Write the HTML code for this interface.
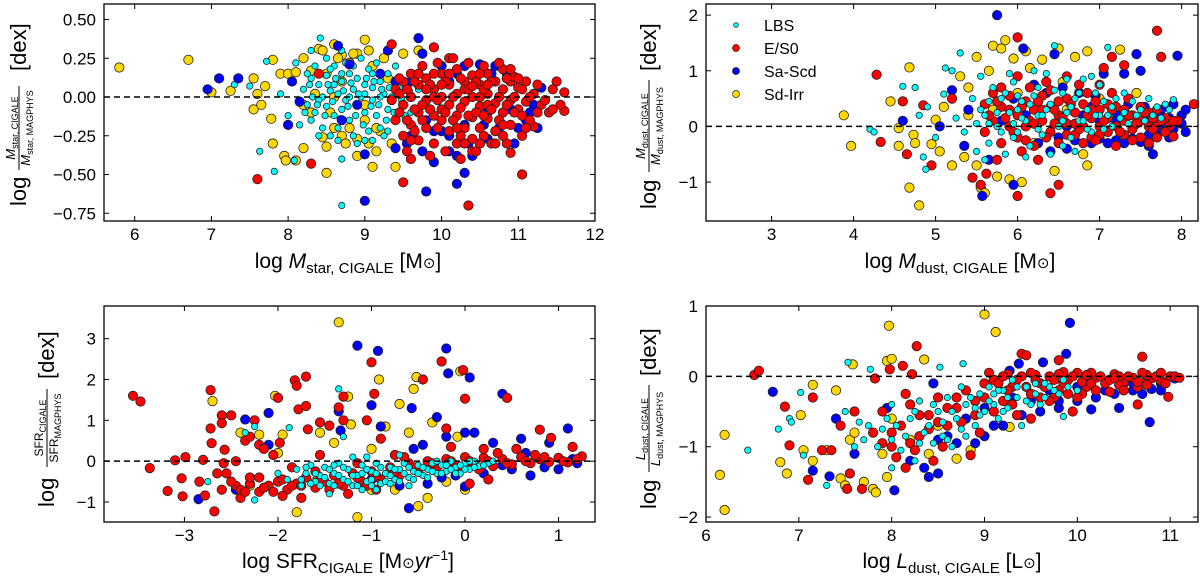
<!DOCTYPE html>
<html><head><meta charset="utf-8"><style>
html,body{margin:0;padding:0;background:#fff;}
svg{display:block;font-family:"Liberation Sans","DejaVu Sans",sans-serif;}
</style></head><body>
<svg id="fig" width="1200" height="578" viewBox="0 0 1200 578">
<g id="marks"></g>
<g transform="translate(10,0) rotate(-90)" fill="#000">
  <text x="-206" y="16" font-size="22">log</text>
  <text x="-128" y="5" font-size="13" text-anchor="middle"><tspan font-style="italic">M</tspan><tspan font-size="9" dy="3">star, CIGALE</tspan></text>
  <line x1="-170" x2="-86" y1="9" y2="9" stroke="#000" stroke-width="1"/>
  <text x="-128" y="20" font-size="13" text-anchor="middle"><tspan font-style="italic">M</tspan><tspan font-size="9" dy="3">star, MAGPHYS</tspan></text>
  <text x="-71" y="16" font-size="22">[dex]</text>
</g>
<g transform="translate(640,0) rotate(-90)" fill="#000">
  <text x="-209" y="16" font-size="22">log</text>
  <text x="-126" y="5" font-size="13" text-anchor="middle"><tspan font-style="italic">M</tspan><tspan font-size="9" dy="3">dust, CIGALE</tspan></text>
  <line x1="-172" x2="-80" y1="9" y2="9" stroke="#000" stroke-width="1"/>
  <text x="-126" y="20" font-size="13" text-anchor="middle"><tspan font-style="italic">M</tspan><tspan font-size="9" dy="3">dust, MAGPHYS</tspan></text>
  <text x="-71" y="16" font-size="22">[dex]</text>
</g>
<g transform="translate(38,0) rotate(-90)" fill="#000">
  <text x="-507" y="16" font-size="22">log</text>
  <text x="-428" y="5" font-size="12" text-anchor="middle">SFR<tspan font-size="9" dy="3">CIGALE</tspan></text>
  <line x1="-467" x2="-389" y1="9" y2="9" stroke="#000" stroke-width="1"/>
  <text x="-428" y="20" font-size="12" text-anchor="middle">SFR<tspan font-size="9" dy="3">MAGPHYS</tspan></text>
  <text x="-379" y="16" font-size="22">[dex]</text>
</g>
<g transform="translate(640,0) rotate(-90)" fill="#000">
  <text x="-509" y="16" font-size="22">log</text>
  <text x="-429" y="5" font-size="13" text-anchor="middle"><tspan font-style="italic">L</tspan><tspan font-size="9" dy="3">dust, CIGALE</tspan></text>
  <line x1="-472" x2="-385" y1="9" y2="9" stroke="#000" stroke-width="1"/>
  <text x="-429" y="20" font-size="13" text-anchor="middle"><tspan font-style="italic">L</tspan><tspan font-size="9" dy="3">dust, MAGPHYS</tspan></text>
  <text x="-376" y="16" font-size="22">[dex]</text>
</g>
<text x="348" y="268" font-size="21" text-anchor="middle">log <tspan font-style="italic">M</tspan><tspan font-size="15" dy="5">star, CIGALE</tspan><tspan dy="-5"> [M</tspan><tspan font-size="15">⊙</tspan>]</text>
<text x="960" y="268" font-size="21" text-anchor="middle">log <tspan font-style="italic">M</tspan><tspan font-size="15" dy="5">dust, CIGALE</tspan><tspan dy="-5"> [M</tspan><tspan font-size="15">⊙</tspan>]</text>
<text x="348" y="568" font-size="21" text-anchor="middle">log SFR<tspan font-size="15" dy="5">CIGALE</tspan><tspan dy="-5"> [M</tspan><tspan font-size="15">⊙</tspan><tspan font-style="italic">yr</tspan><tspan font-size="14" dy="-8">−1</tspan><tspan dy="8">]</tspan></text>
<text x="952" y="568" font-size="21" text-anchor="middle">log <tspan font-style="italic">L</tspan><tspan font-size="15" dy="5">dust, CIGALE</tspan><tspan dy="-5"> [L</tspan><tspan font-size="15">⊙</tspan>]</text>
<g font-size="16">
  <g><circle cx="736" cy="25" r="2.4" fill="#00ffff" stroke="#222" stroke-width="0.7"/><text x="764" y="31">LBS</text></g>
  <g><circle cx="736" cy="48" r="3.5" fill="#ff0000" stroke="#222" stroke-width="0.7"/><text x="764" y="54">E/S0</text></g>
  <g><circle cx="736" cy="71" r="3.5" fill="#0000ff" stroke="#222" stroke-width="0.7"/><text x="764" y="77">Sa-Scd</text></g>
  <g><circle cx="736" cy="94" r="3.5" fill="#ffd700" stroke="#222" stroke-width="0.7"/><text x="764" y="100">Sd-Irr</text></g>
</g>
</svg>
<script>
// ---------- data (x, y pairs) ----------
const p1Yellow=[5.8,0.19,6.7,0.24,7.0,0.03,7.25,0.04,7.55,0.12,7.55,-0.08,7.6,0.02,7.65,-0.05,7.7,0.07,7.78,-0.14,7.8,0.24,7.8,-0.3,7.9,0.15,7.95,-0.38,7.97,-0.41,8.0,0.15,8.1,0.16,8.1,-0.41,8.2,-0.33,8.2,0.25,8.3,0.17,8.4,0.31,8.45,0.3,8.5,-0.49,8.45,-0.26,8.5,-0.32,8.6,0.34,8.7,0.27,8.8,0.22,8.9,0.28,8.9,-0.38,9.0,0.37,9.05,-0.3,9.1,-0.45,9.4,-0.45,9.5,0.28,8.2,-0.05,8.3,-0.1,8.35,0.02,8.6,-0.2,8.7,-0.25,8.8,-0.2,9.0,-0.15,9.2,-0.22,8.5,0.15,8.7,0.1,9.1,0.2,9.3,0.12,9.6,0.0,9.7,0.3,8.9,-0.27,9.15,-0.35,8.55,-0.1,8.65,0.25,8.75,-0.3,8.85,0.28,9.05,0.3,9.15,-0.2,9.25,0.25,9.35,-0.3,8.6,0.0,9.0,-0.05];
const p1Blue=[6.95,0.05,7.1,0.12,7.35,0.12,8.05,0.1,8.0,-0.18,8.15,-0.03,8.65,0.33,8.7,-0.15,8.8,0.21,8.9,-0.05,9.0,-0.37,9.0,-0.67,9.3,0.3,9.4,-0.33,9.55,-0.3,9.7,0.38,9.75,0.28,9.8,-0.61,9.9,-0.42,10.0,0.2,10.1,-0.35,10.1,-0.25,10.2,-0.56,10.3,-0.49,10.3,0.2,10.4,-0.38,10.5,-0.3,10.5,0.21,10.6,-0.27,10.7,0.2,10.8,-0.25,11.0,-0.2,11.1,-0.15,11.2,-0.05,11.3,0.06,9.5,-0.05,9.8,-0.15,10.0,-0.22,10.3,-0.18,10.6,-0.1,10.9,-0.08,9.6,0.1,10.2,0.15,10.8,0.05,11.15,-0.1,9.2,0.15,9.9,0.05,9.6,-0.25,9.9,-0.22,10.1,0.1,10.35,-0.3,10.55,-0.18,10.75,-0.2,10.95,-0.3,11.25,-0.2,9.4,0.1,10.65,0.15,10.85,0.15,9.75,-0.35,10.2,-0.38];
const p1Red=[7.6,-0.53,8.3,-0.43,8.4,0.15,9.35,0.34,9.5,-0.55,9.6,-0.4,9.9,0.32,10.1,0.25,10.35,-0.7,10.4,-0.35,10.9,-0.36,11.05,-0.5,11.5,0.1,11.6,0.03,11.6,-0.09,11.55,-0.05,11.2,-0.19,11.4,-0.1,
9.4,0.05,9.4,-0.15,9.5,0.1,9.5,-0.05,9.5,-0.25,9.6,0.0,9.6,0.15,9.6,-0.18,9.7,0.08,9.7,-0.1,9.7,-0.28,9.8,0.12,9.8,-0.02,9.8,-0.2,9.9,0.05,9.9,-0.12,9.9,-0.3,10.0,0.15,10.0,0.0,10.0,-0.15,10.1,0.08,10.1,-0.05,10.1,-0.22,10.2,0.18,10.2,0.02,10.2,-0.12,10.2,-0.3,10.3,0.1,10.3,-0.03,10.3,-0.2,10.4,0.14,10.4,0.0,10.4,-0.13,10.4,-0.27,10.5,0.08,10.5,-0.06,10.5,-0.2,10.6,0.15,10.6,0.02,10.6,-0.14,10.7,0.1,10.7,-0.04,10.7,-0.22,10.8,0.18,10.8,0.05,10.8,-0.1,10.9,0.1,10.9,-0.02,10.9,-0.18,11.0,0.06,11.0,-0.08,11.1,0.1,11.1,-0.03,11.2,0.02,11.3,-0.05,9.45,0.12,9.55,-0.35,9.65,-0.08,9.75,0.2,9.85,-0.38,9.95,0.22,10.05,-0.35,10.15,0.25,10.25,-0.4,10.35,0.22,10.45,-0.35,10.55,0.2,10.65,-0.3,10.75,0.22,10.85,-0.3,10.95,0.13,11.05,-0.25,9.9,0.0,10.3,0.05,10.6,-0.05,10.0,-0.08,10.5,0.0,
9.35,-0.02,9.45,-0.1,9.45,0.02,9.55,0.05,9.55,-0.15,9.65,0.1,9.65,-0.22,9.75,-0.05,9.75,-0.15,9.85,0.08,9.85,-0.08,9.95,-0.02,9.95,-0.2,10.05,0.1,10.05,-0.1,10.15,0.0,10.15,-0.15,10.25,0.12,10.25,-0.07,10.25,-0.25,10.35,0.05,10.35,-0.12,10.45,0.1,10.45,-0.1,10.55,0.05,10.55,-0.12,10.55,-0.25,10.65,0.1,10.65,-0.08,10.75,0.0,10.75,-0.15,10.85,0.12,10.85,-0.05,10.95,0.0,10.95,-0.1,11.05,0.05,11.05,-0.12,11.15,0.0,11.15,-0.15,11.25,0.08,11.25,-0.1,11.35,-0.02,11.45,0.05,11.45,-0.08,9.6,-0.28,9.8,0.05,10.0,0.08,10.2,-0.2,10.4,0.07,10.6,0.08,10.8,-0.18,11.0,0.12,10.1,0.15,10.3,-0.3,10.7,-0.3,10.9,0.18,11.1,-0.2,9.9,0.15,10.5,0.15,10.5,-0.3,9.7,0.15,10.8,-0.25];
const p1Cyan=[7.3,0.08,7.5,0.07,7.63,-0.35,7.72,0.23,7.82,-0.48,8.08,-0.41,8.3,0.3,8.42,0.38,8.7,-0.7,8.7,-0.4,7.9,0.02,8.0,-0.12,8.1,0.22,8.15,-0.18,8.2,0.05,8.25,-0.05,8.3,0.12,8.35,-0.1,8.4,0.08,8.45,0.0,8.5,-0.06,8.5,0.14,8.55,0.04,8.6,-0.12,8.6,0.2,8.65,0.02,8.7,0.1,8.7,-0.08,8.75,-0.02,8.8,0.15,8.8,-0.15,8.85,0.05,8.9,-0.05,8.9,0.12,8.95,0.0,9.0,0.08,9.0,-0.1,9.05,0.18,9.1,-0.02,9.1,0.06,9.15,-0.12,9.2,0.1,9.2,-0.2,9.25,0.02,9.3,-0.08,9.3,0.15,9.35,0.0,9.4,-0.15,9.45,0.06,9.5,-0.05,9.55,0.1,9.6,-0.1,8.35,0.2,8.45,-0.2,8.55,-0.25,8.65,-0.2,8.75,0.22,8.85,-0.25,8.95,0.25,9.05,-0.22,9.15,0.22,9.25,-0.25,8.4,-0.02,8.6,0.08,8.8,0.0,9.0,0.02,9.2,0.0,8.3,-0.15,8.5,0.25,8.9,-0.3,9.1,-0.28,9.4,0.2,9.65,-0.2,9.7,0.05,8.25,0.15,8.7,0.3,
8.22,-0.1,8.28,0.08,8.32,0.0,8.38,-0.05,8.42,0.15,8.48,-0.12,8.52,0.08,8.58,-0.03,8.62,0.12,8.68,-0.14,8.72,0.04,8.78,-0.06,8.82,0.09,8.88,-0.12,8.92,0.02,8.98,-0.18,9.02,0.12,9.08,-0.06,9.12,0.1,9.18,-0.05,9.22,0.05,9.28,-0.15,9.32,0.06,9.38,-0.1,9.42,0.1,9.48,-0.02,9.52,-0.12,9.58,0.04,8.55,0.18,8.65,-0.28,8.85,0.2,9.0,-0.28,9.3,-0.22,8.4,-0.25,8.7,0.15,9.1,0.15];

const p2Yellow=[3.88,0.2,3.97,-0.35,4.45,0.45,4.55,-0.03,4.55,-0.35,4.68,1.06,4.68,-1.1,4.73,-0.15,4.75,-0.3,4.8,-1.42,4.95,-0.32,5.0,0.12,5.05,-0.45,5.1,0.35,5.2,-0.7,5.3,0.9,5.35,-0.55,5.4,0.7,5.5,1.25,5.5,-0.7,5.55,-1.1,5.6,-1.2,5.65,1.0,5.7,1.45,5.75,-0.9,5.8,1.4,5.85,1.55,5.9,-0.95,5.95,1.22,6.05,-1.0,6.1,1.35,6.15,1.05,6.3,1.2,6.45,-0.8,6.5,1.4,6.55,0.8,6.7,1.25,6.8,-0.5,6.85,1.35,6.85,-0.7,7.25,1.38,7.45,0.6,5.7,0.3,6.0,0.6,6.2,-0.3,5.4,0.2,7.0,0.5,6.6,0.3];
const p2Blue=[4.6,0.1,5.05,0.0,5.2,0.65,5.35,-0.35,5.4,0.3,5.57,-1.25,5.65,-0.6,5.75,2.0,5.95,-1.05,6.07,1.4,6.25,-0.3,6.45,1.3,6.6,-0.4,7.05,0.95,7.3,0.95,7.45,1.3,7.5,1.0,7.65,-0.5,7.95,1.27,6.5,-0.2,6.7,-0.25,6.9,-0.3,7.0,-0.22,7.1,-0.3,7.2,-0.25,7.3,-0.3,7.4,-0.22,7.5,-0.28,7.6,-0.15,7.7,-0.1,7.8,0.0,7.85,0.15,7.9,-0.05,8.0,0.2,8.05,0.3,8.0,0.05,7.75,0.3,7.55,0.35,7.35,0.4,6.95,0.55,6.75,0.6,6.55,0.7,6.35,0.6,6.2,0.75,5.95,0.5,5.8,0.1,7.2,0.1,7.6,0.1,6.8,0.2,6.6,0.0,7.0,0.1,7.4,0.0,7.7,0.2,7.9,0.4,7.85,-0.2,8.05,-0.1,7.6,-0.35,7.2,0.25,6.9,0.35,6.4,-0.45,6.1,0.2];
const p2Red=[4.28,0.93,4.33,-0.28,4.6,0.45,4.65,-0.5,4.85,0.38,4.95,-0.7,5.2,0.5,5.45,-0.92,5.55,-1.05,5.62,-0.85,6.0,1.6,6.0,-1.25,6.4,-1.2,6.5,-1.05,7.7,1.72,7.75,1.25,7.3,1.1,7.15,1.25,8.15,0.4,7.05,1.05,
5.6,0.4,5.6,-0.1,5.7,0.6,5.7,0.1,5.8,-0.3,5.8,0.35,5.9,0.0,5.9,0.55,6.0,0.2,6.0,-0.2,6.1,0.45,6.1,0.0,6.2,0.3,6.2,-0.35,6.3,0.1,6.3,0.55,6.4,-0.1,6.4,0.35,6.5,0.2,6.5,-0.3,6.6,0.5,6.6,0.05,6.7,0.25,6.7,-0.15,6.8,0.4,6.8,0.0,6.9,0.15,6.9,-0.2,7.0,0.3,7.0,0.0,7.1,0.15,7.1,-0.1,7.2,0.35,7.2,0.0,7.3,0.1,7.3,-0.15,7.4,0.2,7.4,-0.05,7.5,0.1,7.5,-0.2,7.6,0.25,7.6,0.0,7.7,0.05,7.7,-0.2,7.8,0.15,7.9,-0.18,6.15,0.7,6.35,0.8,6.75,0.75,7.15,0.6,5.75,-0.6,6.25,-0.6,6.85,0.6,7.35,0.5,6.05,-0.45,6.45,0.05,
5.65,0.2,5.75,0.45,5.85,0.15,5.95,-0.1,6.05,0.35,6.15,0.1,6.25,0.45,6.35,-0.2,6.45,0.3,6.55,0.15,6.65,0.4,6.75,-0.05,6.85,0.2,6.95,0.45,7.05,0.1,7.15,0.3,7.25,-0.1,7.35,0.2,7.45,0.05,7.55,0.25,7.65,-0.05,7.75,0.1,7.85,0.0,7.95,0.1,5.9,0.3,6.1,-0.25,6.3,0.3,6.5,0.45,6.7,0.05,6.9,0.3,7.1,0.4,7.3,0.3,7.5,0.35,7.7,0.3,7.9,0.1,6.2,0.05,6.6,-0.15,7.0,-0.15,7.4,-0.25,7.8,-0.1,6.4,0.65,6.8,-0.3,7.2,-0.35,7.6,-0.3,5.8,0.7,6.0,0.9,6.6,0.9,7.0,0.75,6.95,-0.25,7.65,0.15];
const p2Cyan=[4.2,-0.05,4.25,-0.1,4.6,0.72,4.75,0.7,4.85,-0.55,4.88,-0.77,4.8,0.2,4.9,0.35,5.1,0.58,5.12,1.05,5.2,1.0,5.3,1.32,5.0,-0.2,5.25,0.15,5.35,-0.1,5.45,0.5,5.5,0.05,5.5,-0.45,5.55,0.9,5.6,0.2,5.65,-0.3,5.7,0.7,5.75,0.0,5.8,0.5,5.85,-0.5,5.9,0.25,5.95,0.8,6.0,-0.1,6.05,0.45,6.1,0.1,6.15,-0.35,6.2,0.55,6.25,0.2,6.3,-0.15,6.35,0.95,6.4,0.4,6.45,1.45,6.5,0.0,6.55,0.6,6.6,0.25,6.65,-0.2,6.7,0.5,6.75,0.1,6.8,0.85,6.85,0.3,6.9,-0.1,6.95,0.6,7.0,0.2,7.05,0.45,7.1,1.42,7.15,0.0,7.2,0.5,7.3,0.25,7.4,0.45,7.5,0.3,7.6,0.5,7.7,0.35,7.8,0.4,7.9,0.48,5.95,0.05,6.25,0.7,6.55,-0.35,6.9,0.9,5.65,0.45,6.0,0.3,
5.55,0.3,5.65,0.05,5.75,0.25,5.85,0.6,5.95,-0.2,6.05,0.15,6.15,0.4,6.25,-0.05,6.35,0.3,6.45,0.65,6.55,0.1,6.65,0.35,6.75,0.6,6.85,-0.05,6.95,0.2,7.05,-0.05,7.15,0.35,7.25,0.15,7.35,0.05,7.45,0.2,7.55,0.1,7.65,0.2,7.75,0.15,7.85,0.3,5.6,-0.6,5.9,0.95,6.2,1.0,6.6,0.85,7.0,0.75,7.3,0.6,6.1,-0.55,6.4,-0.5,6.7,-0.45,6.0,0.55,6.3,0.2,6.8,0.1,7.1,0.2,5.8,-0.1];

const p3Yellow=[-2.7,1.47,-2.3,-0.6,-2.2,0.65,-2.03,1.6,-2.0,0.2,-1.95,0.65,-1.8,-1.25,-1.55,0.7,-1.4,0.45,-1.35,3.4,-1.25,1.58,-1.22,0.9,-1.15,-1.37,-0.92,2.0,-0.85,0.85,-0.75,-0.7,-0.7,1.4,-0.6,0.7,-0.55,1.77,-0.52,2.06,-0.4,-0.9,-0.5,-1.1,-0.35,0.95,-0.05,2.2,-0.08,0.6,0.0,-0.7,-1.0,0.3,-1.6,-0.5,-1.0,-0.7,-0.2,-0.5,-2.4,0.7];
const p3Blue=[-2.85,-0.93,-2.45,-0.7,-2.35,1.02,-2.1,1.18,-2.1,0.4,-1.35,1.22,-1.33,0.75,-1.15,2.83,-1.0,1.37,-0.93,2.7,-0.9,0.85,-0.6,-1.15,-0.57,1.3,-0.2,2.76,-0.18,2.15,0.05,2.05,0.4,1.65,0.0,0.7,0.1,0.7,-0.3,1.08,-0.45,0.4,-0.2,0.6,0.6,0.55,0.9,0.45,1.1,0.8,0.3,0.45,0.5,-0.2,0.7,-0.35,1.0,-0.2,1.15,0.05,0.85,-0.15,0.4,-0.1,0.2,-0.3,-0.1,-0.35,-0.4,-0.55,-0.7,-0.6,-1.0,-0.45,-0.25,-0.4,0.0,-0.62,-0.55,0.3,1.2,-0.05,0.65,0.2];
const p3Red=[-3.55,1.6,-3.47,1.46,-3.37,-0.17,-3.18,-0.73,-3.1,0.02,-3.03,-0.42,-3.02,-0.86,-2.99,0.1,-2.84,-0.5,-2.8,0.03,-2.78,-0.84,-2.72,1.74,-2.72,0.8,-2.71,0.44,-2.68,-1.23,-2.65,-0.3,-2.6,1.12,-2.6,0.93,-2.58,-0.05,-2.57,0.28,-2.5,1.12,-2.45,-0.6,-2.4,-0.9,-2.35,0.5,-2.3,0.6,-2.25,1.0,-2.2,0.4,-2.15,0.3,-2.0,1.55,-1.98,0.45,-1.82,1.98,-1.8,1.85,-1.78,1.27,-1.7,2.07,-1.7,1.35,-1.68,0.78,-1.55,0.95,-1.45,0.87,-1.35,1.32,-1.3,1.58,-1.0,2.42,-0.97,1.65,-0.9,0.55,-0.45,2.0,-0.25,2.44,-0.2,0.8,-0.02,2.23,0.0,1.53,0.45,1.55,0.8,0.77,0.92,0.57,1.15,0.35,1.25,0.12,-1.3,1.0,-1.05,1.0,
-2.5,-0.5,-2.4,-0.7,-2.3,-0.55,-2.2,-0.75,-2.1,-0.6,-2.0,-0.5,-1.9,-0.7,-1.8,-0.55,-1.7,-0.4,-1.6,-0.65,-1.5,-0.5,-1.4,-0.35,-1.3,-0.6,-1.2,-0.3,-1.1,-0.5,-1.0,-0.25,-0.9,-0.45,-0.8,-0.15,-0.7,-0.35,-0.6,-0.05,-0.5,-0.25,-0.4,0.0,-0.3,-0.15,-0.2,0.05,-0.1,-0.1,0.0,0.1,0.1,-0.05,0.2,0.08,0.3,-0.12,0.4,0.05,0.5,-0.08,0.6,0.1,0.7,-0.05,0.8,0.05,0.9,-0.02,1.0,0.08,1.1,-0.03,-2.6,-0.7,-2.2,-0.4,-1.95,-0.85,-1.6,-0.25,-1.25,-0.8,-0.95,-0.7,-0.65,0.1,-0.15,0.35,0.2,0.3,0.55,0.3,0.25,-0.45,0.05,-0.55,-2.45,0.0,-2.05,0.15,-1.85,-0.15,-1.55,0.15,-1.15,-0.05,-0.75,0.15,-1.75,-0.9,
-2.3,-0.4,-2.15,-0.65,-1.95,-0.45,-1.75,-0.6,-1.55,-0.45,-1.35,-0.55,-1.15,-0.4,-0.95,-0.35,-0.75,-0.25,-0.55,-0.15,-0.35,-0.05,-0.15,0.0,0.05,0.0,0.25,0.0,0.45,-0.05,0.65,0.0,0.85,0.1,1.05,0.0,1.2,0.05,0.35,0.2,0.75,0.15,-0.05,-0.2,0.15,-0.2,-2.55,-0.3,-2.35,-0.75,-2.05,-0.75,-1.85,-0.6,-1.45,-0.7,-1.05,-0.6];
const p3Cyan=[-2.75,-0.5,-2.35,0.7,-2.25,-0.95,-2.25,0.85,-1.88,0.82,-1.35,1.77,-1.75,-0.6,-1.7,-0.3,-1.65,-0.1,-1.6,-0.5,-1.55,-0.35,-1.5,-0.15,-1.45,-0.55,-1.4,-0.3,-1.35,-0.05,-1.3,-0.45,-1.25,-0.2,-1.2,-0.6,-1.15,-0.35,-1.1,-0.1,-1.05,-0.5,-1.0,-0.25,-0.95,-0.05,-0.9,-0.55,-0.85,-0.3,-0.8,-0.15,-0.75,-0.45,-0.7,-0.2,-0.65,-0.05,-0.6,-0.4,-0.55,-0.25,-0.5,-0.1,-0.45,-0.35,-0.4,-0.2,-0.35,-0.05,-0.3,-0.3,-0.25,-0.1,-0.2,-0.25,-0.15,0.0,-0.1,-0.15,-0.05,-0.3,0.0,-0.05,0.05,-0.2,0.1,0.0,0.15,-0.12,0.25,-0.05,-1.8,-0.2,-1.9,-0.45,-2.0,-0.3,-1.3,0.6,-1.2,0.1,-0.95,-0.7,-1.45,-0.8,-0.7,0.15,-1.05,0.1,
-1.75,-0.45,-1.7,-0.15,-1.65,-0.55,-1.6,-0.3,-1.55,-0.6,-1.5,-0.4,-1.45,-0.2,-1.4,-0.6,-1.35,-0.35,-1.3,-0.15,-1.25,-0.5,-1.2,-0.35,-1.15,-0.6,-1.1,-0.3,-1.05,-0.2,-1.0,-0.45,-0.95,-0.3,-0.9,-0.15,-0.85,-0.5,-0.8,-0.35,-0.75,-0.2,-0.7,-0.5,-0.65,-0.3,-0.6,-0.15,-0.55,-0.45,-0.5,-0.3,-0.45,-0.15,-0.4,-0.4,-0.35,-0.25,-0.3,0.0,-0.25,-0.3,-0.2,-0.1,-0.15,-0.2,-0.1,-0.3,-0.05,-0.1,0.0,-0.2,0.05,0.0,0.1,-0.15,0.2,-0.1,0.3,0.0,-1.0,-0.6,-0.8,-0.55,-0.6,-0.6,-1.4,-0.1,-1.1,-0.7];

const p4Yellow=[6.15,-1.4,6.2,-0.83,6.2,-1.9,6.8,-1.22,6.87,-1.38,7.02,-0.55,7.05,-1.05,7.15,-1.2,7.15,-0.12,7.3,-1.05,7.4,-0.2,7.45,-1.45,7.5,-1.55,7.55,-0.9,7.58,0.17,7.7,-1.5,7.8,-1.6,7.83,-1.65,7.97,0.72,7.95,0.22,8.0,0.25,7.95,-1.43,8.35,0.24,9.0,0.88,9.12,0.63,8.7,-1.17,8.85,-1.05,9.27,-0.72,8.0,-0.6,8.2,-0.9,8.5,-0.7,7.6,-0.8,8.4,-1.1,7.9,-1.1];
const p4Blue=[6.72,-0.22,7.15,-1.34,7.33,-1.42,7.4,-0.6,7.6,-1.1,7.95,-0.45,8.03,-1.62,8.2,-1.2,8.4,-1.43,8.5,-1.38,8.35,-1.3,8.45,-0.1,8.7,-0.95,9.27,0.08,9.37,0.18,9.63,0.2,9.88,0.32,9.92,0.76,10.45,-0.45,10.78,-0.65,10.15,-0.47,11.05,-0.03,9.0,-0.85,9.2,-0.7,9.4,-0.55,9.6,-0.5,9.8,-0.45,10.0,-0.35,10.2,-0.3,10.4,-0.25,10.6,-0.2,10.8,-0.18,9.3,-0.3,9.7,-0.2,10.1,-0.1,10.5,-0.1,10.9,-0.1,8.8,-0.6,8.6,-0.85,9.0,-0.45,9.5,-0.35,10.3,-0.2,10.7,-0.25,10.9,-0.2,9.1,-0.7,8.9,-0.95,8.5,-0.9,10.0,-0.15,10.6,-0.1,9.8,-0.35];
const p4Red=[6.52,0.02,6.57,0.08,6.85,-0.43,6.9,-0.98,7.1,-1.47,7.15,-0.3,7.25,-1.05,7.35,-1.05,7.45,-0.7,7.52,-1.6,7.55,-1.38,7.6,-0.5,7.68,-1.6,7.82,-0.03,7.98,0.1,8.12,0.15,8.27,0.43,8.22,0.03,8.15,-1.3,8.45,-1.2,8.85,-1.12,9.4,0.32,9.45,0.3,9.8,0.23,10.7,0.28,10.65,-0.4,10.98,-0.29,9.5,-0.6,9.95,-0.5,
7.8,-0.8,7.9,-0.5,8.0,-1.0,8.1,-0.7,8.2,-0.4,8.3,-0.85,8.4,-0.55,8.5,-0.3,8.6,-0.7,8.7,-0.45,8.8,-0.2,8.9,-0.55,9.0,-0.3,9.1,-0.05,9.2,-0.35,9.3,-0.15,9.4,0.0,9.5,-0.25,9.6,-0.1,9.7,0.0,9.8,-0.2,9.9,-0.05,10.0,0.05,10.1,-0.15,10.2,-0.02,10.3,-0.1,10.4,0.03,10.5,-0.08,10.6,-0.02,10.7,-0.1,10.8,-0.03,10.9,-0.06,11.0,0.0,9.05,0.05,9.25,0.03,9.55,0.02,9.85,0.06,10.15,0.05,10.45,0.0,10.75,0.02,9.75,-0.3,10.05,-0.25,10.35,-0.22,10.65,-0.15,8.15,-0.25,8.55,-1.0,8.95,-0.8,9.35,-0.55,
9.15,-0.1,9.25,-0.2,9.35,-0.05,9.45,-0.15,9.55,-0.05,9.65,-0.15,9.75,-0.05,9.85,-0.1,9.95,0.0,10.05,-0.08,10.15,-0.1,10.25,0.0,10.35,-0.05,10.45,-0.12,10.55,0.0,10.65,-0.08,10.75,-0.12,10.85,0.0,10.95,-0.1,11.05,0.0,9.2,0.0,9.5,0.05,9.8,0.03,10.1,0.02,10.4,-0.02,10.7,0.05,10.9,0.05,9.6,-0.3,9.9,-0.25,10.2,-0.2,10.5,-0.2,8.9,-0.35,9.0,-0.1,9.1,-0.5,8.6,-0.45,8.4,-0.75,8.2,-0.95,8.0,-0.8,7.9,-0.95,8.3,-0.55,8.5,-0.65,8.7,-0.3,8.75,-0.65,8.25,-1.05,8.05,-1.15,9.3,-0.4,11.1,-0.02,10.0,-0.3,9.7,-0.35];
const p4Cyan=[6.45,-1.05,6.78,-0.75,6.9,-0.6,6.92,-0.65,7.02,-0.23,7.05,-1.12,7.3,-1.55,7.53,0.2,7.77,0.1,8.52,0.13,8.77,0.18,9.85,-0.57,7.5,-0.5,7.7,-0.9,7.9,-0.75,8.0,-0.4,8.1,-1.05,8.2,-0.6,8.3,-0.35,8.3,-0.95,8.4,-0.7,8.5,-0.5,8.55,-0.85,8.6,-0.3,8.7,-0.6,8.75,-0.15,8.8,-0.4,8.9,-0.7,8.95,-0.25,9.0,-0.5,9.05,-0.15,9.1,-0.4,9.15,-0.6,9.2,-0.2,9.25,-0.45,9.3,-0.05,9.35,-0.3,9.45,-0.15,9.5,-0.4,9.55,-0.1,9.65,-0.3,9.7,-0.15,9.8,-0.25,9.9,-0.15,10.0,-0.2,8.0,-1.3,8.25,-1.2,7.6,-1.0,8.45,-0.95,8.65,-1.0,9.4,-0.7,
8.05,-0.7,8.15,-0.85,8.25,-0.5,8.35,-0.8,8.45,-0.4,8.55,-0.65,8.65,-0.5,8.75,-0.75,8.85,-0.3,8.95,-0.55,9.05,-0.35,9.15,-0.2,9.25,-0.3,9.35,-0.15,9.45,-0.35,9.55,-0.25,9.65,-0.1,9.75,-0.2,9.85,-0.05,7.85,-1.0,7.95,-0.6,7.75,-0.7,8.0,-0.9,8.6,-0.9,8.9,-0.45,9.1,-0.25,9.6,-0.4,9.2,-0.5,8.8,-0.85,7.65,-0.65];

const p1XTicks=[6,7,8,9,10,11,12];
const p1YTicks=[0.5,0.25,0,-0.25,-0.5,-0.75];
const p1YTickLabels=["0.50","0.25","0.00","−0.25","−0.50","−0.75"];
const p2XTicks=[3,4,5,6,7,8];
const p2YTicks=[2,1,0,-1];
const p3XTicks=[-3,-2,-1,0,1];
const p3YTicks=[3,2,1,0,-1];
const p4XTicks=[6,7,8,9,10,11];
const p4YTicks=[1,0,-1,-2];

// ---------- rendering ----------
const NS="http://www.w3.org/2000/svg";
const svg=document.getElementById('fig');
const marksLayer=document.getElementById('marks');
function mk(tag,attrs,parent){const e=document.createElementNS(NS,tag);for(const k in attrs)e.setAttribute(k,attrs[k]);(parent||svg).appendChild(e);return e;}
const fmt=v=>(v<0?"−":"")+Math.abs(v);
const RB=4.7, RS=3.2;
const panels=[
 {name:'mstar',L:104,R:595,T:4,B:221,x0:5.6,x1:12,y0:-0.8,y1:0.6,xt:p1XTicks,yt:p1YTicks,ytl:p1YTickLabels,series:[[p1Yellow,'#ffd700',RB,'sd-irr'],[p1Cyan,'#00ffff',RS,'lbs'],[p1Blue,'#0000ff',RB,'sa-scd'],[p1Red,'#ff0000',RB,'e-s0']]},
 {name:'mdust',L:706,R:1198,T:4,B:221,x0:2.2,x1:8.2,y0:-1.7,y1:2.2,xt:p2XTicks,yt:p2YTicks,series:[[p2Yellow,'#ffd700',RB,'sd-irr'],[p2Blue,'#0000ff',RB,'sa-scd'],[p2Red,'#ff0000',RB,'e-s0'],[p2Cyan,'#00ffff',RS,'lbs']]},
 {name:'sfr',L:104,R:595,T:306,B:522,x0:-3.86,x1:1.39,y0:-1.49,y1:3.8,xt:p3XTicks,yt:p3YTicks,series:[[p3Yellow,'#ffd700',RB,'sd-irr'],[p3Blue,'#0000ff',RB,'sa-scd'],[p3Red,'#ff0000',RB,'e-s0'],[p3Cyan,'#00ffff',RS,'lbs']]},
 {name:'ldust',L:706,R:1198,T:306,B:522,x0:6,x1:11.3,y0:-2.07,y1:1,xt:p4XTicks,yt:p4YTicks,series:[[p4Yellow,'#ffd700',RB,'sd-irr'],[p4Blue,'#0000ff',RB,'sa-scd'],[p4Red,'#ff0000',RB,'e-s0'],[p4Cyan,'#00ffff',RS,'lbs']]}
];

panels.forEach(p=>{
  const sx=v=>p.L+(v-p.x0)/(p.x1-p.x0)*(p.R-p.L);
  const sy=v=>p.B-(v-p.y0)/(p.y1-p.y0)*(p.B-p.T);
  const g=mk('g',{},marksLayer);
  
  
  p.series.forEach(s=>{
    const arr=s[0];
    const sg=mk('g',{},g);
    
    
    for(let i=0;i<arr.length;i+=2){
      const c=mk('circle',{cx:sx(arr[i]).toFixed(1),cy:sy(arr[i+1]).toFixed(1),r:s[2],fill:s[1],stroke:'#222','stroke-width':0.8},sg);
      
      
    }
  });
  const zl=mk('line',{x1:p.L,x2:p.R,y1:sy(0),y2:sy(0),stroke:'#000','stroke-width':1.5,'stroke-dasharray':'6,4'});
  
  
  const fr=mk('rect',{x:p.L,y:p.T,width:p.R-p.L,height:p.B-p.T,fill:'none',stroke:'#000','stroke-width':1.3});
  
  
  p.xt.forEach(v=>{
    const x=sx(v);
    mk('line',{x1:x,x2:x,y1:p.B,y2:p.B-5,stroke:'#000','stroke-width':1});
    mk('line',{x1:x,x2:x,y1:p.T,y2:p.T+5,stroke:'#000','stroke-width':1});
    const t=mk('text',{x:x,y:p.B+19,'font-size':17,'text-anchor':'middle'});
    t.textContent=fmt(v);
    
    
  });
  p.yt.forEach((v,i)=>{
    const y=sy(v);
    mk('line',{x1:p.L,x2:p.L+5,y1:y,y2:y,stroke:'#000','stroke-width':1});
    mk('line',{x1:p.R,x2:p.R-5,y1:y,y2:y,stroke:'#000','stroke-width':1});
    const t=mk('text',{x:p.L-8,y:y+6,'font-size':17,'text-anchor':'end'});
    t.textContent=p.ytl?p.ytl[i]:fmt(v);
    
    
  });
});
</script>
</body></html>
